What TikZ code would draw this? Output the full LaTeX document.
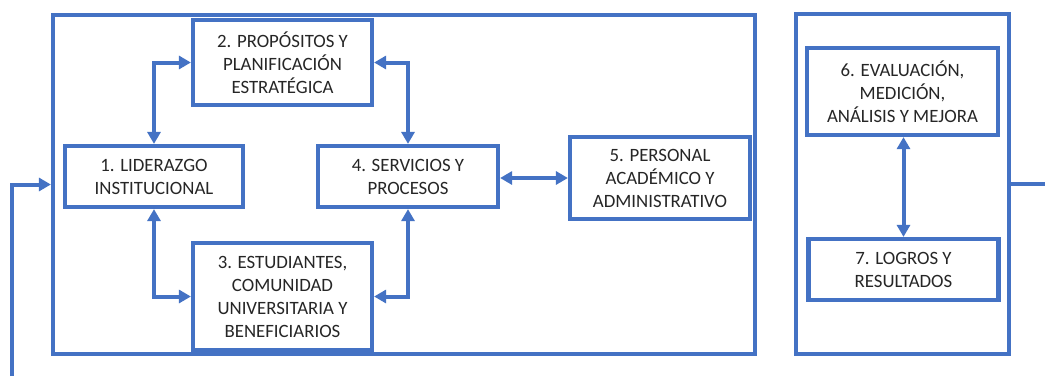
\documentclass[tikz,border=0pt]{standalone}
\usepackage{fontspec}
\setmainfont{Carlito}
\usetikzlibrary{arrows.meta}
\definecolor{bblue}{HTML}{4472C4}
\definecolor{tgray}{HTML}{262626}
\tikzset{
  box/.style={draw=bblue, line width=4.2pt, fill=white, align=center, text=tgray,
    font=\fontsize{18.8}{23}\selectfont, inner sep=0pt},
  frame/.style={draw=bblue, line width=4.2pt, inner sep=0pt},
  link/.style={draw=bblue, line width=4pt, {Triangle[length=12pt,width=13pt]}-{Triangle[length=12pt,width=13pt]}},
  feed/.style={draw=bblue, line width=4pt, -{Triangle[length=12pt,width=13pt]}},
}
\begin{document}
\begin{tikzpicture}[x=1pt,y=-1pt]
\useasboundingbox (0,0) rectangle (1045,376);
\fill[white] (0,0) rectangle (1045,376);
% frames
\node[frame, minimum width=702pt, minimum height=339pt] (f1) at (404,184.5) {};
\node[frame, minimum width=213pt, minimum height=340pt] (f2) at (902.5,184) {};
% boxes
\node[box, minimum width=178pt, minimum height=61pt] (b1) at (154,176.5) {1. LIDERAZGO\\INSTITUCIONAL};
\node[box, minimum width=179pt, minimum height=85pt] (b2) at (282.5,62.5) {2. PROPÓSITOS Y\\PLANIFICACIÓN\\ESTRATÉGICA};
\node[box, minimum width=179pt, minimum height=107pt] (b3) at (282.5,296.5) {3. ESTUDIANTES,\\COMUNIDAD\\UNIVERSITARIA Y\\BENEFICIARIOS};
\node[box, minimum width=180pt, minimum height=61pt] (b4) at (408,176.5) {4. SERVICIOS Y\\PROCESOS};
\node[box, minimum width=180pt, minimum height=82pt] (b5) at (660,178) {5. PERSONAL\\ACADÉMICO Y\\ADMINISTRATIVO};
\node[box, minimum width=191pt, minimum height=87pt] (b6) at (902.5,91.5) {6. EVALUACIÓN,\\MEDICIÓN,\\ANÁLISIS Y MEJORA};
\node[box, minimum width=190pt, minimum height=61pt] (b7) at (903.5,269.5) {7. LOGROS Y\\RESULTADOS};
% connectors
\draw[link] (b1.north) |- (b2.west);
\draw[link] (b1.south) |- (b3.west);
\draw[link] (b2.east) -| (b4.north);
\draw[link] (b3.east) -| (b4.south);
\draw[link] (b4.east |- b5.west) -- (b5.west);
\draw[link] (b6.south -| b7.north) -- (b7.north);
\coordinate (fb) at (12,376);
\draw[feed] (fb) |- (f1.west);
\coordinate (out) at (1045,184);
\draw[draw=bblue, line width=4.2pt] (f2.east) -- (out);
\end{tikzpicture}
\end{document}
